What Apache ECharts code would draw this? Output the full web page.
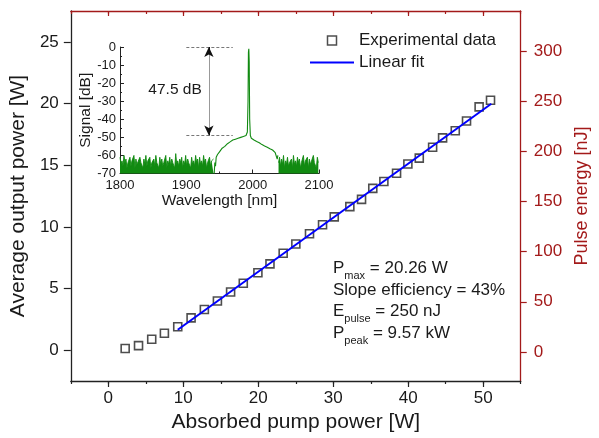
<!DOCTYPE html>
<html>
<head>
<meta charset="utf-8">
<script src="https://cdn.jsdelivr.net/npm/echarts@6/dist/echarts.min.js"></script>
<style>
html,body{margin:0;padding:0;background:#fff;}
#chart{width:599px;height:438px;}
</style>
</head>
<body>
<div id="chart"></div>
<script>
// ---- main plot data ----
const pumpPower = [2.25,4.03,5.79,7.48,9.26,11.04,12.81,14.55,16.31,18.0,19.95,21.56,23.32,25.01,26.83,28.57,30.13,32.21,33.77,35.27,36.75,38.44,39.95,41.47,43.25,44.58,46.27,47.77,49.45,50.97];
const outputPower = [0.13,0.37,0.89,1.37,1.90,2.62,3.30,3.99,4.72,5.42,6.28,7.00,7.86,8.61,9.44,10.17,10.81,11.64,12.23,13.12,13.68,14.35,15.10,15.57,16.45,17.21,17.79,18.58,19.73,20.26];
const fitPump = [9.26, 51.08];
const fitOutput = [1.66, 19.98];
const xMajorTicks = [0,10,20,30,40,50];
const leftTicks = [0,5,10,15,20,25];
const rightTicks = [0,50,100,150,200,250,300];

// ---- inset spectrum data ----
const noiseStep = 1.5;
const noiseLeftStart = 1800;
const noiseLeftDb = [-61,-65,-63,-66,-60,-64,-62,-67,-64,-65,-61,-66,-63,-64,-60,-67,-62,-65,-64,-66,
  -61,-64,-63,-67,-62,-65,-60,-66,-63,-64,-61,-67,-64,-65,-62,-66,-60,-64,-63,-67,
  -61,-65,-62,-66,-64,-64,-60,-67,-63,-65,-61,-66,-62,-64,-64,-67,-59,-65,-63,-66,
  -62,-64,-61,-67,-63,-65,-60,-66,-62,-64,-64,-67,-61,-65,-63,-66,-60,-64,-62,-67,
  -61,-65,-63,-66,-60,-64,-62,-67,-64,-65,-61,-66,-63,-64,-62];
const humpWl = [1942,1943,1944,1945,1946,1947,1948,1950,1952,1954,1956,1958,1960,1962,1964,1966,1968,1970,1972,1974,1976,1978,1980,1982,1984,1986,1988,1990,1991,1992,1993,1993.6,1994.2,1994.8,1995.5,1996.5,1998,2000,2002,2004,2006,2008,2010,2012,2014,2016,2018,2020,2022,2024,2026,2028,2030,2032,2034,2036,2037,2038];
const humpDb = [-70,-64,-66,-61,-62,-59.5,-60,-58,-57.5,-56,-55.5,-55,-54.5,-53.5,-54,-52.5,-53,-51.5,-52,-51,-51.5,-50.5,-50.8,-50,-50.3,-49.5,-49.8,-49,-48.5,-47,-30,-3,-1,-8,-40,-49,-50.5,-50.8,-51.5,-51.2,-52.3,-52,-53,-53.2,-54,-53.8,-54.8,-54.5,-55.5,-55.2,-56.3,-56,-57,-57.5,-58.5,-59.5,-62,-60];
const noiseRightStart = 2039;
const noiseRightDb = [-64,-61,-66,-62,-65,-60,-67,-63,-65,-61,-66,-64,-64,-62,-67,-60,-65,-63,-66,-61,
  -64,-62,-67,-64,-65,-60,-66,-63,-64,-61,-67,-62,-65,-64,-66,-60,-64,-63,-67,-61,-64];

// build spectrum pairs
const noiseLeft = noiseLeftDb.map((v,i)=>[noiseLeftStart + i*noiseStep, v]);
const hump = humpDb.map((v,i)=>[humpWl[i], v]);
const noiseRight = noiseRightDb.map((v,i)=>[noiseRightStart + i*noiseStep, v]);

const expData = pumpPower.map((x,i)=>[x, outputPower[i]]);
const fitData = fitPump.map((x,i)=>[x, fitOutput[i]]);

const RED = '#a31a1a';
const GREEN = '#118a11';
const FONT = 'Liberation Sans, Arial, sans-serif';
const TXT = '#1a1a1a';

const chart = echarts.init(document.getElementById('chart'), null, {renderer:'canvas'});
chart.setOption({
  animation:false,
  backgroundColor:'#fff',
  textStyle:{fontFamily:FONT},
  grid:[
    {left:68, right:71, top:11, bottom:54},
    {left:120, top:47, width:199, height:126.5}
  ],
  legend:{
    orient:'vertical', left:310, top:32, padding:0, itemWidth:44, itemHeight:9, itemGap:5,
    symbolKeepAspect:true,
    textStyle:{fontSize:17, color:TXT, fontFamily:FONT},
    data:[
      {name:'Experimental data', icon:'path://M0,0H10V10H0Z',
       itemStyle:{color:'rgba(255,255,255,0)', borderColor:'#222', borderWidth:1.5}},
      {name:'Linear fit', icon:'path://M0,0H40V2H0Z',
       itemStyle:{color:'#0000ff', borderWidth:0}}
    ]
  },
  xAxis:[
    {gridIndex:0, type:'value', position:'bottom', min:-5, max:55,
     axisLine:{onZero:false, lineStyle:{color:'#222', width:1.3}},
     axisTick:{show:true, inside:false, length:6, customValues:xMajorTicks, lineStyle:{color:'#222', width:1.2}},
     axisLabel:{customValues:xMajorTicks, fontSize:17, color:TXT, margin:9, fontFamily:FONT},
     splitLine:{show:false},
     name:'Absorbed pump power [W]', nameLocation:'middle', nameGap:31,
     nameTextStyle:{fontSize:21, color:TXT, fontFamily:FONT}},
    {gridIndex:0, type:'value', position:'bottom', min:-5, max:55, interval:5,
     axisLine:{show:false, onZero:false}, axisLabel:{show:false}, splitLine:{show:false},
     axisTick:{show:true, length:3, lineStyle:{color:'#222', width:1.2}}},
    {gridIndex:0, type:'value', position:'top', min:-5, max:55,
     axisLine:{onZero:false, lineStyle:{color:RED, width:1.3}},
     axisTick:{show:true, inside:true, length:5, customValues:xMajorTicks, lineStyle:{color:RED, width:1.2}},
     axisLabel:{show:false}, splitLine:{show:false}},
    {gridIndex:0, type:'value', position:'top', min:-5, max:55, interval:5,
     axisLine:{show:false, onZero:false}, axisLabel:{show:false}, splitLine:{show:false},
     axisTick:{show:true, inside:true, length:3, lineStyle:{color:RED, width:1.2}}},
    {gridIndex:1, type:'value', min:1800, max:2100, interval:100,
     axisLine:{onZero:false, lineStyle:{color:'#222', width:1}},
     axisTick:{show:true, inside:true, length:4, lineStyle:{color:'#222'}},
     minorTick:{show:true, splitNumber:2, length:2, lineStyle:{color:'#222'}},
     axisLabel:{fontSize:13, color:TXT, margin:5, fontFamily:FONT, formatter:(v)=>String(v)},
     splitLine:{show:false},
     name:'Wavelength [nm]', nameLocation:'middle', nameGap:18,
     nameTextStyle:{fontSize:15.5, color:TXT, fontFamily:FONT}}
  ],
  yAxis:[
    {gridIndex:0, type:'value', position:'left', min:-2.5, max:27.5,
     axisLine:{show:true, onZero:false, lineStyle:{color:'#222', width:1.3}},
     axisTick:{show:true, inside:false, length:7, customValues:leftTicks, lineStyle:{color:'#222', width:1.2}},
     axisLabel:{customValues:leftTicks, fontSize:17, color:TXT, margin:12, fontFamily:FONT},
     splitLine:{show:false},
     name:'Average output power [W]', nameLocation:'middle', nameGap:36, nameRotate:90,
     nameTextStyle:{fontSize:21, color:TXT, fontFamily:FONT}},
    {gridIndex:0, type:'value', position:'right', min:-29, max:340,
     axisLine:{show:true, onZero:false, lineStyle:{color:RED, width:1.3}},
     axisTick:{show:true, inside:false, length:6, customValues:rightTicks, lineStyle:{color:RED, width:1.2}},
     axisLabel:{customValues:rightTicks, fontSize:17, color:RED, margin:13, fontFamily:FONT},
     splitLine:{show:false},
     name:'Pulse energy [nJ]', nameLocation:'middle', nameGap:50, nameRotate:90,
     nameTextStyle:{fontSize:18, color:RED, fontFamily:FONT}},
    {gridIndex:1, type:'value', min:-70, max:0, interval:10,
     axisLine:{show:true, onZero:false, lineStyle:{color:'#222', width:1}},
     axisTick:{show:true, inside:true, length:4, lineStyle:{color:'#222'}},
     minorTick:{show:true, splitNumber:2, length:2, lineStyle:{color:'#222'}},
     axisLabel:{fontSize:13, color:TXT, margin:4, fontFamily:FONT},
     splitLine:{show:false},
     name:'Signal [dB]', nameLocation:'middle', nameGap:26, nameRotate:90,
     nameTextStyle:{fontSize:15.5, color:TXT, fontFamily:FONT}}
  ],
  series:[
    {name:'Experimental data', type:'scatter', xAxisIndex:0, yAxisIndex:0, data:expData,
     symbol:'rect', symbolSize:8, z:3,
     itemStyle:{color:'rgba(255,255,255,0)', borderColor:'#222', borderWidth:1.6}},
    {name:'Linear fit', type:'line', xAxisIndex:0, yAxisIndex:0, data:fitData,
     symbol:'none', z:4, lineStyle:{color:'#0000ff', width:2}, itemStyle:{color:'#0000ff'}},
    {name:'Noise left', type:'line', xAxisIndex:4, yAxisIndex:2, data:noiseLeft,
     symbol:'none', z:2, lineStyle:{color:GREEN, width:0.9},
     areaStyle:{color:GREEN, opacity:1, origin:'start'}},
    {name:'Noise right', type:'line', xAxisIndex:4, yAxisIndex:2, data:noiseRight,
     symbol:'none', z:2, lineStyle:{color:GREEN, width:0.9},
     areaStyle:{color:GREEN, opacity:1, origin:'start'}},
    {name:'Spectrum', type:'line', xAxisIndex:4, yAxisIndex:2, data:hump,
     symbol:'none', z:2, lineStyle:{color:GREEN, width:1.1},
     markLine:{silent:true, animation:false, symbol:['none','none'], label:{show:false},
       lineStyle:{color:'#777', type:[3,2], width:1},
       data:[
         [{coord:[1900,0]},{coord:[1970,0]}],
         [{coord:[1900,-49]},{coord:[1970,-49]}],
         [{coord:[1934,-1], lineStyle:{type:'solid', color:'#999', width:1}},{coord:[1934,-48]}],
         [{coord:[1934,0], symbol:'arrow', symbolSize:[7,10], lineStyle:{type:'solid', color:'#111', width:1}},{coord:[1934,-3], symbol:'none'}],
         [{coord:[1934,-46], symbol:'none', lineStyle:{type:'solid', color:'#111', width:1}},{coord:[1934,-49], symbol:'arrow', symbolSize:[7,10]}]
       ]},
     markPoint:{silent:true, symbol:'circle', symbolSize:0,
       label:{show:true, position:'inside', formatter:'47.5 dB', fontSize:15.5, color:TXT, fontFamily:FONT},
       data:[{coord:[1883,-23.5]}]}
    }
  ],
  graphic:[
    {type:'text', left:333, top:260, silent:true,
     style:{
       text:'{n|P}{s|max}{n| = 20.26 W}\n{n|Slope efficiency = 43%}\n{n|E}{s|pulse}{n| = 250 nJ}\n{n|P}{s|peak}{n| = 9.57 kW}',
       fill:TXT, fontFamily:FONT,
       rich:{
         n:{fontSize:17, lineHeight:21.5, verticalAlign:'top', fill:TXT, fontFamily:FONT},
         s:{fontSize:11, lineHeight:11, verticalAlign:'bottom', fill:TXT, fontFamily:FONT}
       }
     }}
  ]
});
</script>
</body>
</html>
